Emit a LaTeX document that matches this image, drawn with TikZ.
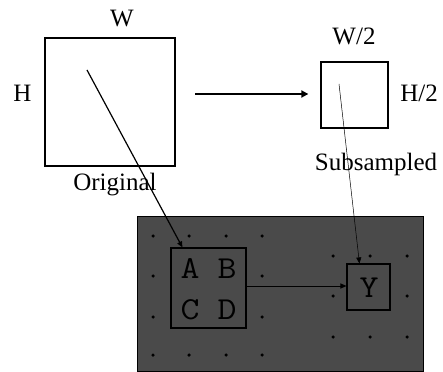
\documentclass[tikz,border=0pt]{standalone}
\usepackage{fontspec}
\setmainfont{Liberation Serif}
\usetikzlibrary{arrows.meta,calc}
\definecolor{panel}{HTML}{4A4A4A}
\newcommand{\wide}[1]{\scalebox{1.15}[1]{#1}}
\begin{document}
\begin{tikzpicture}[x=1pt,y=-1pt,
  lbl/.style={inner sep=0pt,anchor=base,font=\fontsize{25}{27}\selectfont},
  sq/.style={draw,line width=1.3pt,inner sep=0pt,minimum width=#1,minimum height=#1},
  cell/.style={draw,line width=1.1pt,inner sep=0pt},
  ltr/.style={inner sep=0pt,anchor=base,font=\ttfamily\fontsize{32}{34}\selectfont},
  dot/.style={circle,fill=black,inner sep=0pt,minimum size=3.5pt},
  tip/.style={-{Triangle[length=6pt,width=5pt]}}]
\useasboundingbox (0,0) rectangle (443,371);
% top squares
\node[sq=128pt,minimum width=130pt] (orig) at (110,102) {};
\node[sq=66pt,minimum width=67pt] (sub) at (354.5,95) {};
\node[lbl] (lW) at (122,27) {W};
\node[lbl] (lH) at (22.5,102) {H};
\node[lbl] (lW2) at (354,45) {W/2};
\node[lbl] (lH2) at (419,102) {H/2};
\node[lbl] (lsub) at (376,170) {Subsampled};
\node[lbl] (lorig) at (115,190) {Original};
% main arrow
\coordinate (a0) at (195,94);
\draw[line width=2.5pt,-{Triangle[length=7pt,width=7pt]}] (a0) -- ($(a0 -| sub.west)+(-12,0)$);
% panel
\node[draw,fill=panel,line width=1pt,inner sep=0pt,minimum width=286pt,minimum height=155pt] (panel) at (280,293.5) {};
% dots
\foreach \x in {153,189,226,262} {
  \node[dot] at (\x,236) {};
  \node[dot] at (\x,355) {};
}
\foreach \y in {276,317} {
  \node[dot] at (153,\y) {};
  \node[dot] at (262,\y) {};
}
\foreach \x in {333,370,407} {
  \node[dot] at (\x,256) {};
  \node[dot] at (\x,337) {};
}
\node[dot] at (333,296) {};
\node[dot] at (407,296) {};
% inner boxes
\node[cell,minimum width=75pt,minimum height=80pt] (abcd) at (208.5,288) {};
\node[cell,minimum width=43pt,minimum height=46pt] (ybox) at (368.5,287) {};
\node[ltr] (A) at (190,278) {\wide{A}};
\node[ltr] (B) at (227,278) {\wide{B}};
\node[ltr] (C) at (190,319) {\wide{C}};
\node[ltr] (D) at (227,319) {\wide{D}};
\node[ltr] (Y) at (369,297) {\wide{Y}};
% connectors
\coordinate (s1) at (87,70);
\coordinate (s2) at (339,84);
\draw[line width=1.2pt,tip] (s1) -- ($(abcd.north west)+(12,0)$);
\draw[line width=0.5pt,tip] (s2) -- ($(ybox.north west)+(13,0)$);
\draw[line width=1pt,tip] (abcd.east |- 0,286) -- (ybox.west |- 0,286);
\end{tikzpicture}
\end{document}
